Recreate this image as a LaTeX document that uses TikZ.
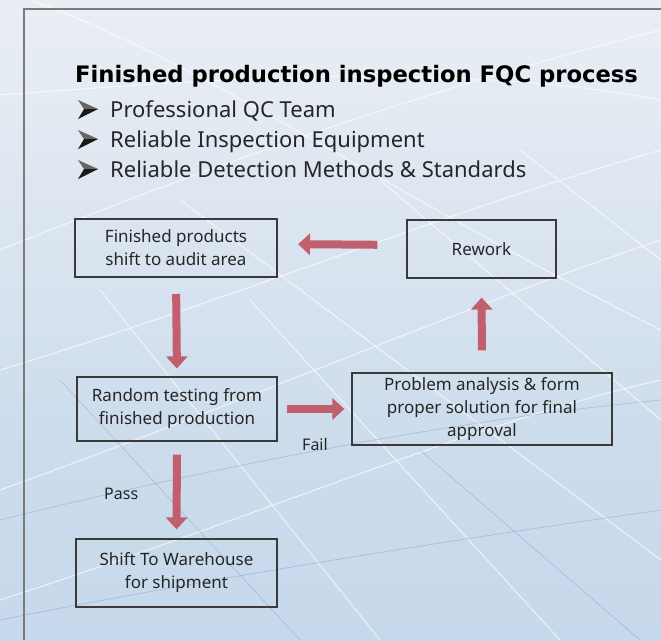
\documentclass[tikz,border=0pt]{standalone}
\usepackage{fontspec}
\setmainfont{Noto Sans}
\newfontfamily\titlefont{DejaVu Sans}
\usetikzlibrary{arrows.meta}
\definecolor{arrowred}{HTML}{C25F6E}
\definecolor{framegray}{HTML}{7A7A7A}
\definecolor{boxline}{HTML}{3A3A3A}
\definecolor{bgA}{HTML}{BCD2E9}
\definecolor{bgB}{HTML}{CCDCEC}
\definecolor{bgC}{HTML}{E6ECF3}
\definecolor{bgD}{HTML}{EEF2F6}
\definecolor{bgE}{HTML}{E4EAF1}
\pgfdeclareverticalshading{bgshade}{100bp}{%
  color(0bp)=(bgA); color(40bp)=(bgB); color(70bp)=(bgC);
  color(85bp)=(bgD); color(100bp)=(bgE)}
\tikzset{
  procbox/.style={draw=boxline, line width=1.2, inner sep=2, align=center,
    font=\fontsize{17}{23}\selectfont, text=black!85},
  flowarrow/.style={arrowred, line width=8,
    -{Triangle[length=12,width=21]}},
  lbl/.style={font=\fontsize{16}{20}\selectfont, text=black!85}
}
\begin{document}
\begin{tikzpicture}[x=1pt,y=-1pt]
\useasboundingbox (0,0) rectangle (661,640);
% background
\shade[shading=bgshade] (0,0) rectangle (661,640);
\begin{scope}[white, opacity=0.7, line width=1]
  \draw (0,95) .. controls (200,80) and (450,60) .. (661,100);
  \draw (30,0) .. controls (200,60) and (400,200) .. (661,330);
  \draw (0,250) .. controls (200,170) and (420,90) .. (661,30);
  \draw (0,370) .. controls (230,300) and (450,210) .. (661,150);
  \draw (0,490) .. controls (250,400) and (480,300) .. (661,240);
  \draw (0,600) .. controls (250,520) and (480,420) .. (661,380);
  \draw (180,200) -- (661,560);
  \draw (380,180) -- (661,420);
  \draw (520,150) -- (661,260);
  \draw (100,290) -- (380,640);
  \draw (250,300) -- (560,640);
\end{scope}
\begin{scope}[blue!40!gray, opacity=0.2, line width=0.8]
  \draw (0,520) .. controls (200,470) and (450,420) .. (661,400);
  \draw (0,620) .. controls (200,580) and (450,540) .. (661,510);
  \draw (60,380) -- (300,640);
  \draw (420,450) -- (640,640);
\end{scope}
% frame
\draw[framegray, line width=2] (24,640) -- (24,9) -- (661,9);
% title and bullets
\node[anchor=base west, inner sep=0, font=\titlefont\bfseries\fontsize{22.7}{26}\selectfont]
  (title) at (75,82) {Finished production inspection FQC process};
\foreach \yy/\txt [count=\i] in {117/Professional QC Team, 147/Reliable Inspection Equipment, 177/Reliable Detection Methods \& Standards}{
  \node[anchor=base west, inner sep=0, font=\fontsize{22}{24}\selectfont, text=black!85]
    (bul\i) at (110,\yy) {\txt};
  \fill[black!60] (78,\yy-17) -- (98,\yy-8) -- (84,\yy-8) -- cycle;
  \fill[black!90] (78,\yy+2) -- (98,\yy-8) -- (84,\yy-8) -- cycle;
}
% boxes
\node[procbox, line width=2, minimum width=202, minimum height=58] (b1) at (176,248)
  {Finished products\\shift to audit area};
\node[procbox, minimum width=149, minimum height=58] (rw) at (481.5,249) {Rework};
\node[procbox, minimum width=200, minimum height=64] (b2) at (177,409)
  {Random testing from\\finished production};
\node[procbox, minimum width=260, minimum height=72] (b3) at (482,409)
  {Problem analysis \& form\\proper solution for final\\approval};
\node[procbox, minimum width=201, minimum height=68] (b4) at (176.5,573)
  {Shift To Warehouse\\for shipment};
% arrows
\draw[flowarrow, shorten <=29, shorten >=20] ([yshift=4]rw.west) -- ([yshift=4]b1.east);
\draw[flowarrow, shorten <=16, shorten >=8] (b1.south) -- (b2.north);
\draw[flowarrow, shorten <=9, shorten >=7] (b2.east) -- (b3.west);
\draw[flowarrow, shorten <=22, shorten >=19] (b3.north) -- (rw.south);
\draw[flowarrow, shorten <=13, shorten >=9] (b2.south) -- (b4.north);
% labels
\node[lbl, anchor=base west, inner sep=0] (fail) at (302,450) {Fail};
\node[lbl, anchor=base west, inner sep=0] (pass) at (104,499) {Pass};
\end{tikzpicture}
\end{document}
